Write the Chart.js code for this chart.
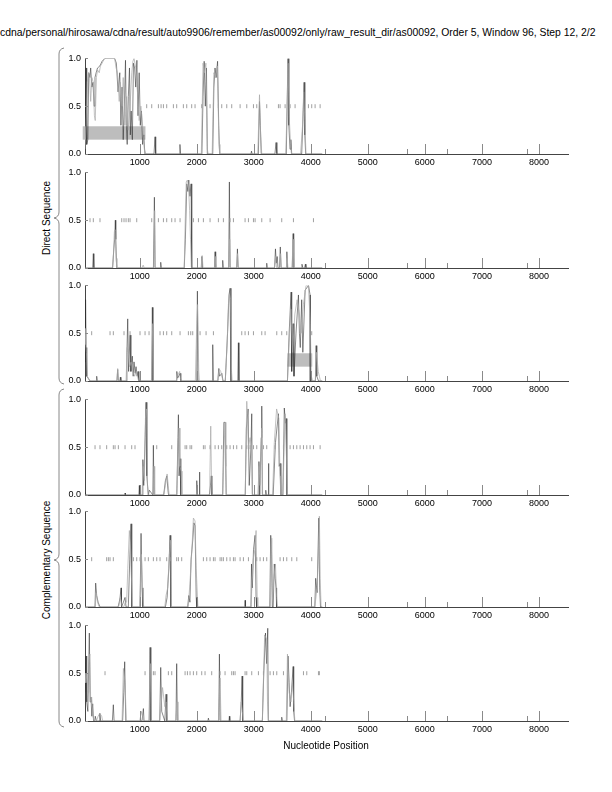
<!DOCTYPE html>
<html>
<head>
<meta charset="utf-8">
<script src="https://cdn.jsdelivr.net/npm/chart.js@4.4.0/dist/chart.umd.min.js"></script>
<style>
	body { margin: 0; background: #fff; }
	#page { position: relative; width: 612px; height: 792px; overflow: hidden; font-family: "Liberation Sans", Arial, sans-serif; color: #000; }
	.panel { position: absolute; left: 0; }
	#title { position: absolute; left: 0; top: 27px; font-size: 10.4px; white-space: nowrap; }
	#xlabel { position: absolute; left: 326px; top: 740px; font-size: 10px; transform: translateX(-50%); white-space: nowrap; }
	.ylabel { position: absolute; font-size: 10px; white-space: nowrap; transform: translate(-50%, -50%) rotate(-90deg); }
	svg { position: absolute; left: 0; top: 0; }
</style>
</head>
<body>
<div id="page">
	<div id="title">cdna/personal/hirosawa/cdna/result/auto9906/remember/as00092/only/raw_result_dir/as00092, Order 5, Window 96, Step 12, 2/2</div>
	<svg width="612" height="792">
		<path d="M64 48 Q59 49 59 54 L59 212 Q59 217 54 218 Q59 219 59 224 L59 378 Q59 383 64 384" fill="none" stroke="#888" stroke-width="1"/>
		<path d="M64 389 Q59 390 59 395 L59 554 Q59 559 54 560 Q59 561 59 566 L59 721 Q59 726 64 727" fill="none" stroke="#888" stroke-width="1"/>
	</svg>
	<div class="ylabel" style="left:46px; top:218px;">Direct Sequence</div>
	<div class="ylabel" style="left:46px; top:560px;">Complementary Sequence</div>
	<canvas class="panel" id="c1" width="612" height="123"></canvas>
	<canvas class="panel" id="c2" width="612" height="123"></canvas>
	<canvas class="panel" id="c3" width="612" height="123"></canvas>
	<canvas class="panel" id="c4" width="612" height="123"></canvas>
	<canvas class="panel" id="c5" width="612" height="123"></canvas>
	<canvas class="panel" id="c6" width="612" height="123"></canvas>
	<div id="xlabel">Nucleotide Position</div>
</div>
<script>
// axis ticks
const xTickValues = [1000, 2000, 3000, 4000, 5000, 6000, 7000, 8000];
const xMinorTicks = [4250, 5690, 6390, 7795];
const yTickValues = [0, 0.5, 1];

// Direct sequence, panel 1
const p1Dark = [[40,0.05],[60,0.9],[70,0.1],[90,0.15],[105,0.85],[125,0.8],[140,0.9],[160,0.7],[180,0.75],[200,0.5],[215,0.8],[235,0.85],[260,0.9],[300,0.92],[340,0.97],[390,1.0],[560,1.0],[590,0.95],[620,0.65],[650,0.85],[670,0.3],[690,0.7],[710,0.15],[730,0.5],[750,0.98],[765,0.3],[780,0.1],[800,0.6],[820,0.9],[835,0.2],[850,0.45],[870,0.15],[890,0.95],[910,0.9],[930,0.7],[950,0.98],[970,0.4],[990,0.85],[1010,0.3],[1030,0.45],[1050,0.1],[1070,0.2],[1090,0],
	[1250,0],[1268,0.18],[1280,0],[1690,0],[1705,0.1],[1715,0],[2090,0],[2110,0.6],[2130,0.97],[2150,0.5],[2170,0.9],[2185,0],[2280,0],[2300,0.7],[2320,0.9],[2340,0.8],[2365,0.97],[2385,0.3],[2400,0],[2950,0],[2960,0.03],[2970,0],[3080,0],[3100,0.55],[3115,0.3],[3130,0],[3370,0],[3390,0.12],[3405,0],[3570,0],[3590,0.7],[3600,1.0],[3615,0.3],[3635,0.05],[3650,0.15],[3665,0],[3840,0],[3870,0.5],[3882,0.75],[3895,0.2],[3910,0],[4200,0]];
const p1Light = [[40,0.05],[60,0.3],[80,0.75],[100,0.85],[120,0.8],[140,0.55],[160,0.8],[185,0.75],[205,0.4],[220,0.35],[240,0.8],[260,0.88],[290,0.85],[310,0.92],[340,0.95],[380,1.0],[560,1.0],[585,0.9],[610,0.85],[640,0.55],[660,0.75],[690,0.5],[710,0.8],[740,0.3],[770,0.6],[800,0.25],[830,0.5],[860,0.85],[880,0.97],[900,1.0],[930,0.9],[960,0.65],[990,0.35],[1020,0.5],[1050,0.3],[1080,0.05],[1110,0],
	[2080,0],[2110,0.95],[2135,0.85],[2160,0.95],[2185,0.05],[2200,0],[2270,0],[2300,0.85],[2330,0.8],[2360,0.92],[2390,0.1],[2405,0],[3070,0],[3100,0.62],[3120,0.2],[3140,0],[3560,0],[3585,0.5],[3600,0.95],[3620,0.4],[3645,0.1],[3660,0],[3820,0],[3855,0.3],[3875,0.65],[3895,0.35],[3915,0],[4200,0]];
const p1Marks = [1122,1210,1327,1374,1415,1473,1590,1648,1765,1824,1911,1970,2087,2233,2292,2379,2438,2526,2613,2760,2877,2994,3052,3227,3432,3461,3549,3637,3724,3958,4016,4075,4163];
const p1Box = [0, 1100, 0.15, 0.29];

// Direct sequence, panel 2
const p2Dark = [[40,0],[175,0],[186,0.15],[196,0],[525,0],[545,0.2],[560,0.3],[572,0.5],[580,0.3],[595,0],[1240,0],[1257,0.74],[1268,0],[1360,0],[1368,0.06],[1378,0],[1780,0],[1800,0.3],[1825,0.88],[1845,0.8],[1860,0.92],[1880,0.75],[1900,0.88],[1912,0],[2080,0],[2090,0.12],[2100,0],[2310,0],[2321,0.17],[2332,0],[2445,0],[2455,0.08],[2465,0],[2560,0],[2572,0.9],[2584,0],[2700,0],[2713,0.2],[2725,0],[3220,0],[3227,0.05],[3235,0],[3365,0],[3380,0.2],[3395,0.05],[3410,0.12],[3425,0],[3450,0],[3465,0.22],[3478,0],[3570,0],[3580,0.17],[3590,0],[3675,0],[3690,0.36],[3700,0],[3830,0],[3845,0.04],[3860,0],[3890,0],[3905,0.04],[3915,0],[4200,0]];
const p2Light = [[40,0],[520,0],[540,0.15],[555,0.38],[570,0.4],[585,0.1],[600,0],[1040,0],[1060,0.03],[1080,0],[1245,0],[1262,0.6],[1272,0],[1780,0],[1800,0.55],[1815,0.9],[1835,0.92],[1855,0.85],[1875,0.6],[1890,0.3],[1905,0],[2075,0],[2095,0.13],[2110,0],[2310,0],[2322,0.12],[2335,0],[2560,0],[2578,0.3],[2592,0],[2700,0],[2715,0.15],[2730,0],[3360,0],[3380,0.12],[3400,0],[3455,0],[3470,0.15],[3485,0],[3570,0],[3585,0.1],[3600,0],[3670,0],[3690,0.3],[3705,0],[4200,0]];
const p2Marks = [128,186,303,684,724,760,800,830,947,1210,1327,1415,1473,1561,1619,1707,1941,2029,2116,2233,2379,2467,2584,2643,2847,2906,2994,3023,3140,3286,3490,3695,4046];

// Direct sequence, panel 3
const p3Dark = [[40,0.2],[50,0.85],[58,0.35],[66,0.3],[75,0.05],[128,0],[235,0],[245,0.05],[255,0],[600,0],[613,0.12],[625,0],[650,0],[660,0.04],[670,0],[760,0],[775,0.3],[789,0.65],[805,0.1],[830,0.48],[845,0.1],[870,0.26],[885,0.05],[900,0.2],[920,0.08],[935,0.15],[955,0.05],[970,0.1],[985,0],[1210,0],[1221,0.77],[1232,0],[1640,0],[1650,0.1],[1665,0.03],[1707,0.08],[1720,0],[2000,0],[2011,0.94],[2022,0],[2270,0],[2280,0.38],[2290,0],[2370,0],[2385,0.13],[2400,0.05],[2440,0.08],[2460,0],[2500,0],[2540,0.5],[2565,0.9],[2584,0.97],[2600,0],[2720,0],[2730,0.4],[2740,0],[3590,0],[3620,0.5],[3654,0.93],[3665,0.1],[3690,0.6],[3705,0.05],[3740,0.5],[3783,0.9],[3800,0.5],[3815,0.35],[3840,0.85],[3860,0.3],[3900,0.95],[3960,1.0],[3987,0.9],[3990,0],[4080,0],[4093,0.37],[4105,0.05],[4135,0],[4200,0]];
const p3Light = [[40,0.55],[55,0.38],[65,0.3],[80,0.05],[130,0],[600,0],[613,0.13],[625,0],[760,0],[780,0.35],[800,0.3],[820,0.15],[850,0.2],[880,0.1],[910,0.05],[940,0.1],[980,0],[1205,0],[1228,0.6],[1240,0],[1640,0],[1660,0.05],[1700,0.1],[1720,0],[1975,0],[2000,0.6],[2015,0.8],[2035,0.1],[2045,0],[2370,0],[2390,0.13],[2420,0.1],[2440,0.05],[2460,0],[2500,0],[2530,0.35],[2555,0.8],[2575,0.9],[2595,0.85],[2610,0.1],[2620,0],[3590,0],[3620,0.4],[3650,0.75],[3680,0.3],[3720,0.7],[3760,0.85],[3800,0.7],[3830,0.5],[3870,0.8],[3917,1.0],[3958,1.0],[3990,0.6],[4010,0.05],[4030,0],[4080,0],[4100,0.3],[4130,0.1],[4150,0.05],[4170,0],[4200,0]];
const p3Marks = [157,479,537,724,830,1005,1093,1163,1239,1356,1415,1473,1561,1707,1853,1894,1929,2058,2163,2292,2789,2847,2906,2994,3140,3198,3403,3490,3578,4016];
const p3Box = [3590, 4025, 0.15, 0.29];

// Complementary sequence, panel 4
const p4Dark = [[40,0.03],[60,0],[735,0],[742,0.02],[750,0],[985,0],[993,0.1],[1000,0],[1040,0],[1055,0.37],[1070,0.1],[1095,0.6],[1110,0.97],[1125,0.2],[1150,0],[1169,0.05],[1230,0],[1239,0.52],[1250,0],[1420,0],[1450,0.15],[1475,0.2],[1495,0.05],[1505,0],[1650,0],[1670,0.6],[1678,0.84],[1690,0.2],[1707,0.38],[1720,0],[1990,0],[2000,0.15],[2010,0],[2040,0],[2046,0.24],[2055,0],[2220,0],[2240,0.1],[2255,0.2],[2265,0],[2455,0],[2475,0.76],[2500,0.76],[2515,0],[2850,0],[2870,0.7],[2900,0.9],[2920,0.1],[2950,0.5],[2964,0.85],[2975,0],[3075,0],[3090,0.35],[3105,0],[3130,0.6],[3140,0.93],[3150,0],[3200,0],[3210,0.05],[3220,0],[3250,0],[3257,0.33],[3265,0],[3340,0],[3380,0.55],[3432,0.85],[3445,0.3],[3461,0.33],[3475,0],[3510,0],[3535,0.91],[3555,0.75],[3567,0.8],[3580,0],[4200,0]];
const p4Light = [[40,0],[1040,0],[1060,0.3],[1080,0.15],[1100,0.8],[1120,0.9],[1135,0.1],[1150,0],[1235,0],[1250,0.3],[1262,0],[1420,0],[1450,0.1],[1480,0.22],[1500,0.1],[1515,0],[1650,0],[1670,0.5],[1690,0.7],[1705,0.3],[1725,0.25],[1740,0],[2215,0],[2230,0.2],[2245,0.72],[2260,0.1],[2270,0],[2455,0],[2480,0.5],[2496,0.76],[2510,0.3],[2520,0],[2850,0],[2877,0.98],[2905,0.5],[2935,0.6],[2960,0.5],[2975,0],[3070,0],[3095,0.3],[3110,0.1],[3140,0.7],[3155,0],[3330,0],[3360,0.55],[3400,0.9],[3440,0.8],[3460,0.2],[3475,0],[3510,0],[3549,0.85],[3570,0.5],[3585,0],[4200,0]];
const p4Marks = [216,303,420,537,567,625,742,859,917,1298,1561,1795,1824,1882,1911,2116,2145,2233,2321,2379,2438,2526,2584,2643,2701,2789,2877,2935,2994,3052,3169,3227,3373,3520,3637,3695,3754,3812,3871,3929,3987,4046,4163];

// Complementary sequence, panel 5
const p5Dark = [[40,0],[215,0],[227,0.25],[245,0.12],[270,0.05],[303,0],[620,0],[640,0.05],[655,0.1],[672,0.2],[680,0],[713,0.05],[742,0.1],[760,0],[800,0],[825,0.5],[847,0.87],[860,0],[1005,0],[1023,0.77],[1040,0.2],[1055,0],[1450,0],[1480,0.1],[1510,0.4],[1532,0.75],[1545,0],[1840,0],[1860,0.12],[1880,0.05],[1900,0.5],[1930,0.7],[1950,0.88],[1970,0.85],[1990,0.1],[2000,0],[2840,0],[2847,0.07],[2855,0],[2950,0],[2960,0.45],[2975,0.2],[2995,0.6],[3023,0.75],[3040,0.1],[3050,0],[3280,0],[3297,0.75],[3310,0.6],[3325,0],[3340,0],[3360,0.45],[3375,0.3],[3390,0.2],[3400,0],[4070,0],[4085,0.3],[4110,0.15],[4140,0.93],[4155,0.2],[4170,0],[4200,0]];
const p5Light = [[40,0],[220,0],[235,0.15],[260,0.05],[290,0],[630,0],[660,0.1],[690,0],[720,0],[745,0.05],[770,0.05],[790,0.4],[818,0.8],[840,0.6],[870,0],[1000,0],[1030,0.55],[1055,0.1],[1070,0],[1440,0],[1461,0.12],[1490,0.2],[1520,0.55],[1543,0.7],[1555,0],[1850,0],[1880,0.25],[1915,0.6],[1941,0.93],[1970,0.9],[1990,0.4],[2020,0],[2950,0],[2990,0.5],[3020,0.6],[3040,0.8],[3060,0.1],[3070,0],[3290,0],[3315,0.72],[3330,0.1],[3350,0.3],[3380,0.45],[3400,0.1],[3415,0],[4070,0],[4110,0.2],[4130,0.5],[4150,0.95],[4165,0.3],[4180,0],[4200,0]];
const p5Marks = [157,420,450,479,537,888,947,1005,1093,1151,1239,1298,1356,1473,1531,1648,1678,1736,2116,2175,2233,2292,2321,2409,2438,2467,2526,2584,2643,2672,2760,2818,2906,3052,3110,3169,3227,3461,3520,3578,3666,3754,4016];

// Complementary sequence, panel 6
const p6Dark = [[40,0.3],[58,0.68],[70,0.2],[90,0.1],[116,0.92],[130,0.2],[145,0.25],[160,0.05],[175,0.18],[190,0],[210,0],[220,0.05],[240,0],[290,0],[300,0.08],[315,0],[520,0],[537,0.17],[550,0],[700,0],[720,0.3],[736,0.62],[755,0],[1040,0],[1064,0.13],[1075,0],[1165,0],[1181,0.77],[1195,0],[1350,0],[1368,0.56],[1385,0.1],[1440,0],[1461,0.28],[1475,0],[1635,0],[1648,0.6],[1660,0],[2195,0],[2204,0.03],[2215,0],[2385,0],[2397,0.7],[2410,0],[2565,0],[2572,0.05],[2580,0],[2760,0],[2780,0.2],[2795,0.47],[2806,0],[3150,0],[3175,0.5],[3205,0.92],[3225,0.6],[3245,0.97],[3255,0],[3485,0],[3490,0.04],[3500,0],[3580,0],[3600,0.68],[3620,0.4],[3637,0.15],[3660,0.3],[3690,0.57],[3700,0.1],[3715,0],[4200,0]];
const p6Light = [[40,0.5],[55,0.4],[75,0.5],[95,0.3],[110,0.6],[125,0.7],[140,0.2],[157,0.25],[180,0.05],[200,0],[240,0],[270,0.05],[300,0.08],[333,0.05],[350,0],[690,0],[713,0.55],[742,0.4],[765,0],[1000,0],[1030,0.1],[1050,0.05],[1065,0],[1165,0],[1190,0.6],[1205,0],[1350,0],[1400,0.35],[1440,0.15],[1461,0.2],[1480,0],[1630,0],[1655,0.2],[1670,0],[2380,0],[2409,0.45],[2425,0],[2760,0],[2780,0.2],[2800,0.1],[2815,0],[3150,0],[3190,0.9],[3227,0.85],[3240,0.2],[3255,0],[3570,0],[3590,0.7],[3620,0.3],[3650,0.2],[3680,0.4],[3700,0.2],[3720,0],[4200,0]];
const p6Marks = [391,1093,1239,1268,1502,1561,1795,1836,1882,1941,1999,2087,2145,2262,2409,2496,2613,2643,2672,2847,2877,2964,3081,3169,3286,3344,3403,3520,3871,3929,4134,4150];

// chart area tops in the page
const panelTops = [55, 169, 282, 396, 508, 622];
const PAD_TOP = 6;

const toXY = (arr) => arr.map((p) => ({ x: p[0], y: p[1] }));

// inward tick marks + shaded boxes, placed through the scales
const panelDecor = {
	id: "panelDecor",
	beforeDatasetsDraw(chart, args, opts) {
		if (!opts.box) return;
		const { ctx, scales: { x, y } } = chart;
		const b = opts.box;
		const x0 = x.getPixelForValue(b[0]);
		const x1 = x.getPixelForValue(b[1]);
		const y0 = y.getPixelForValue(b[3]);
		const y1 = y.getPixelForValue(b[2]);
		ctx.save();
		ctx.fillStyle = "#bdbdbd";
		ctx.fillRect(x0, y0, x1 - x0, y1 - y0);
		ctx.restore();
	},
	afterDraw(chart) {
		const { ctx, chartArea, scales: { x, y } } = chart;
		ctx.save();
		ctx.strokeStyle = "#8a8a8a";
		ctx.lineWidth = 1;
		ctx.beginPath();
		xTickValues.forEach((v) => {
			const px = Math.round(x.getPixelForValue(v)) + 0.5;
			ctx.moveTo(px, chartArea.bottom);
			ctx.lineTo(px, chartArea.bottom - 10);
		});
		xMinorTicks.forEach((v) => {
			const px = Math.round(x.getPixelForValue(v)) + 0.5;
			ctx.moveTo(px, chartArea.bottom);
			ctx.lineTo(px, chartArea.bottom - 5);
		});
		yTickValues.forEach((v) => {
			const py = Math.round(y.getPixelForValue(v)) + 0.5;
			ctx.moveTo(chartArea.left, py);
			ctx.lineTo(chartArea.left + 3, py);
		});
		ctx.stroke();
		ctx.restore();
	},
};

function makePanel(id, index, dark, light, marks, box) {
	const canvas = document.getElementById(id);
	canvas.style.top = panelTops[index] - PAD_TOP + "px";
	return new Chart(canvas, {
		type: "scatter",
		data: {
			datasets: [
				{
					data: marks.map((m) => ({ x: m, y: 0.5 })),
					pointStyle: "line",
					rotation: 90,
					radius: 2,
					borderColor: "#a0a0a0",
					borderWidth: 1,
					showLine: false,
				},
				{
					data: toXY(light),
					showLine: true,
					borderColor: "#a8a8a8",
					borderWidth: 0.7,
					pointRadius: 0,
					tension: 0,
				},
				{
					data: toXY(dark),
					showLine: true,
					borderColor: "#2a2a2a",
					borderWidth: 0.55,
					pointRadius: 0,
					tension: 0,
				},
			],
		},
		options: {
			responsive: false,
			animation: false,
			events: [],
			devicePixelRatio: 1,
			layout: { padding: { top: PAD_TOP, right: 44, left: 0, bottom: 0 } },
			plugins: {
				legend: { display: false },
				tooltip: { enabled: false },
				panelDecor: { box: box },
			},
			scales: {
				x: {
					type: "linear",
					min: 40,
					max: 8510,
					grid: { display: false, drawTicks: false },
					border: { display: true, color: "#444", width: 1 },
					afterBuildTicks: (scale) => {
						scale.ticks = xTickValues.map((v) => ({ value: v }));
					},
					afterFit: (scale) => {
						scale.height = 18;
					},
					ticks: {
						padding: 3,
						maxRotation: 0,
						color: "#000",
						font: { family: "Liberation Sans", size: 9 },
						callback: (v) => String(v),
					},
				},
				y: {
					min: 0,
					max: 1,
					grid: { display: false, drawTicks: false },
					border: { display: true, color: "#444", width: 1 },
					afterBuildTicks: (scale) => {
						scale.ticks = yTickValues.map((v) => ({ value: v }));
					},
					afterFit: (scale) => {
						scale.width = 85;
					},
					ticks: {
						padding: 4,
						color: "#000",
						font: { family: "Liberation Sans", size: 9 },
						callback: (v) => v.toFixed(1),
					},
				},
			},
		},
		plugins: [panelDecor],
	});
}

makePanel("c1", 0, p1Dark, p1Light, p1Marks, p1Box);
makePanel("c2", 1, p2Dark, p2Light, p2Marks, null);
makePanel("c3", 2, p3Dark, p3Light, p3Marks, p3Box);
makePanel("c4", 3, p4Dark, p4Light, p4Marks, null);
makePanel("c5", 4, p5Dark, p5Light, p5Marks, null);
makePanel("c6", 5, p6Dark, p6Light, p6Marks, null);
</script>
</body>
</html>
